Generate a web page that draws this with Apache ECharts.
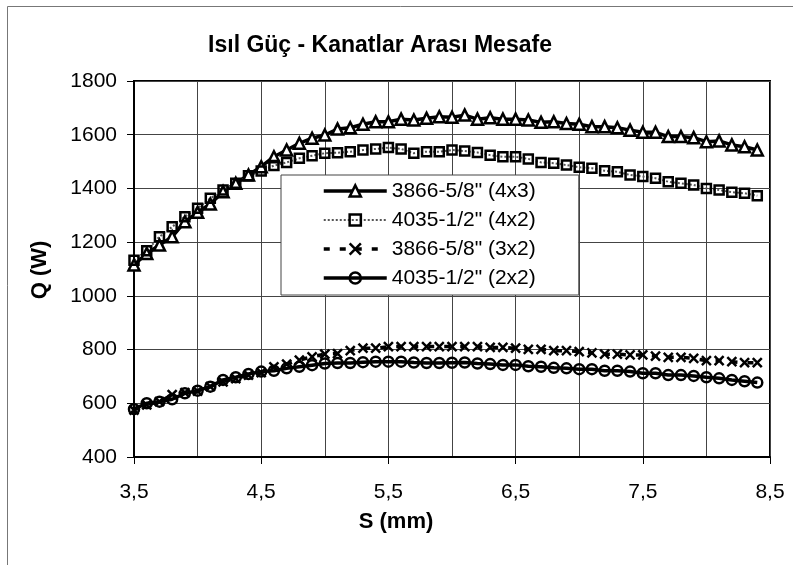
<!DOCTYPE html>
<html>
<head>
<meta charset="utf-8">
<script src="https://cdn.jsdelivr.net/npm/echarts@6/dist/echarts.min.js"></script>
<style>
html,body{margin:0;padding:0;background:#fff;}
#c{width:793px;height:565px;}
</style>
</head>
<body>
<div id="c"></div>
<script>
const xValues = [3.5,3.6,3.7,3.8,3.9,4.0,4.1,4.2,4.3,4.4,4.5,4.6,4.7,4.8,4.9,5.0,5.1,5.2,5.3,5.4,5.5,5.6,5.7,5.8,5.9,
                 6.0,6.1,6.2,6.3,6.4,6.5,6.6,6.7,6.8,6.9,7.0,7.1,7.2,7.3,7.4,7.5,7.6,7.7,7.8,7.9,8.0,8.1,8.2,8.3,8.4];
const seriesNames = ['3866-5/8" (4x3)', '4035-1/2" (4x2)', '3866-5/8" (3x2)', '4035-1/2" (2x2)'];
const q_3866_4x3 = [1115,1158,1189,1220,1276,1311,1342,1388,1419,1450,1481,1518,1543,1568,1587,1599,1621,1626,1639,1648,1648,1658,1655,1661,1667,
                    1665,1673,1658,1663,1658,1658,1655,1646,1648,1642,1639,1630,1630,1626,1617,1609,1609,1593,1593,1589,1574,1577,1562,1555,1543];
const q_4035_4x2 = [1133,1168,1220,1257,1295,1326,1363,1394,1419,1447,1465,1485,1497,1512,1522,1531,1533,1537,1543,1547,1552,1547,1531,1537,1537,
                    1543,1539,1534,1524,1518,1518,1510,1497,1494,1487,1479,1475,1466,1462,1450,1444,1438,1425,1419,1413,1400,1394,1386,1382,1373];
const q_3866_3x2 = [575,594,606,632,640,645,662,680,692,705,714,736,746,761,773,783,785,796,805,805,811,811,811,811,811,
                    811,811,811,808,808,805,801,801,796,796,792,788,783,783,780,780,776,771,771,767,759,759,755,751,751];
const q_4035_2x2 = [578,600,606,615,637,647,662,687,697,709,718,721,730,736,742,748,750,750,753,755,755,755,752,750,750,
                    751,752,748,746,743,743,738,736,732,730,727,727,721,721,718,712,712,705,705,702,697,693,687,682,677];
const yTicks = {min: 400, max: 1800, step: 200};
const xTicks = {min: 3.5, max: 8.5, step: 1};

const FONT = '"Liberation Sans", Arial, sans-serif';
function pairs(ys){ return ys.map((y,i)=>[xValues[i], y]); }
const xPath = 'path://M0,0L10,10M10,0L0,10';

const styles = [
  {symbol:'triangle', symbolSize:11, line:{color:'#000', width:3.5, type:'solid'}, item:{color:'#fff', borderColor:'#000', borderWidth:2.5}},
  {symbol:'rect', symbolSize:9, line:{color:'#555', width:2, type:'dotted'}, item:{color:'rgba(255,255,255,0)', borderColor:'#000', borderWidth:2.5}},
  {symbol:xPath, symbolSize:9, line:{color:'#000', width:3.5, type:[6,10]}, item:{color:'rgba(0,0,0,0)', borderColor:'#000', borderWidth:2.5}},
  {symbol:'circle', symbolSize:10, line:{color:'#000', width:3.5, type:'solid'}, item:{color:'rgba(255,255,255,0)', borderColor:'#000', borderWidth:2.5}}
];
const seriesData = [q_3866_4x3, q_4035_4x2, q_3866_3x2, q_4035_2x2];

const chart = echarts.init(document.getElementById('c'), null, {renderer:'canvas'});
chart.setOption({
  animation:false,
  backgroundColor:'#fff',
  textStyle:{fontFamily:FONT, color:'#000'},
  grid:{left:134, right:23, top:81, bottom:108, show:true, borderColor:'#000', borderWidth:2, backgroundColor:'transparent'},
  xAxis:{
    type:'value', min:xTicks.min, max:xTicks.max, interval:xTicks.step,
    axisLine:{lineStyle:{color:'#000', width:2}},
    axisTick:{show:true, length:7, lineStyle:{color:'#000', width:1}},
    axisLabel:{fontSize:21, color:'#000', fontFamily:FONT, margin:25,
      formatter:v=>v.toFixed(1).replace('.', ',')},
    splitLine:{show:true, lineStyle:{color:'#444', width:1}},
    minorTick:{show:false, splitNumber:2},
    minorSplitLine:{show:true, lineStyle:{color:'#444', width:1}}
  },
  yAxis:{
    type:'value', min:yTicks.min, max:yTicks.max, interval:yTicks.step,
    axisLine:{show:true, lineStyle:{color:'#000', width:2}},
    axisTick:{show:true, length:7, lineStyle:{color:'#000', width:1}},
    axisLabel:{fontSize:21, color:'#000', fontFamily:FONT, margin:17, formatter:v=>String(v)},
    splitLine:{show:true, lineStyle:{color:'#444', width:1}}
  },
  legend:{
    show:true, orient:'vertical', left:281, top:175,
    padding:[5,43,6,41], itemGap:7, itemWidth:63, itemHeight:14,
    backgroundColor:'#fff', borderColor:'#444', borderWidth:1,
    selectedMode:false,
    textStyle:{fontSize:21, color:'#000', fontFamily:FONT, lineHeight:22},
    data:seriesNames.map((n,i)=>({name:n, lineStyle:Object.assign({}, styles[i].line), itemStyle:Object.assign({}, styles[i].item)}))
  },
  graphic:[
    {type:'line', shape:{x1:7.5, y1:6.5, x2:7.5, y2:565}, style:{stroke:'#777', lineWidth:1}, silent:true},
    {type:'line', shape:{x1:7.5, y1:6.5, x2:793, y2:6.5}, style:{stroke:'#777', lineWidth:1}, silent:true},
    {type:'text', x:380, y:46, style:{text:'Isıl Güç - Kanatlar Arası Mesafe', font:'bold 23px '+FONT, fill:'#000', align:'center', verticalAlign:'middle'}},
    {type:'text', x:40, y:270, rotation:Math.PI/2, style:{text:'Q (W)', font:'bold 22px '+FONT, fill:'#000', align:'center', verticalAlign:'middle'}},
    {type:'text', x:396, y:522, style:{text:'S (mm)', font:'bold 22px '+FONT, fill:'#000', align:'center', verticalAlign:'middle'}}
  ],
  series:seriesData.map((d,i)=>({
    type:'line', silent:true, animation:false, emphasis:{disabled:true}, z:2,
    name:seriesNames[i], data:pairs(d),
    symbol:styles[i].symbol, symbolSize:styles[i].symbolSize,
    lineStyle:styles[i].line, itemStyle:styles[i].item
  }))
});
</script>
</body>
</html>
